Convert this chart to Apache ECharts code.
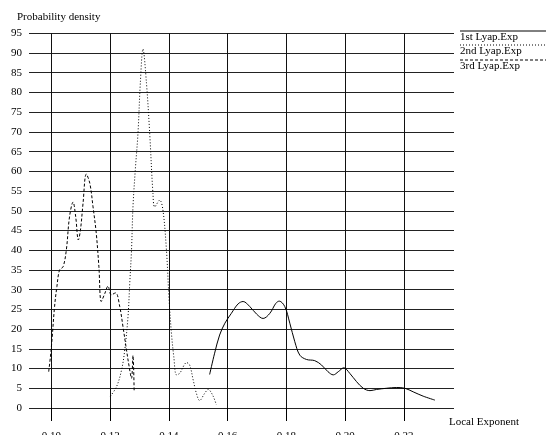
<!DOCTYPE html>
<html>
<head>
<meta charset="utf-8">
<script src="https://cdn.jsdelivr.net/npm/echarts@6/dist/echarts.min.js"></script>
<style>
html,body{margin:0;padding:0;background:#fff;}
#chart{width:546px;height:435px;}
</style>
</head>
<body>
<div id="chart"></div>
<script>
// ---- data ----
var xTicks = [0.10, 0.12, 0.14, 0.16, 0.18, 0.20, 0.22];
var yTicks = [0, 5, 10, 15, 20, 25, 30, 35, 40, 45, 50, 55, 60, 65, 70, 75, 80, 85, 90, 95];
var seriesNames = ['1st Lyap.Exp', '2nd Lyap.Exp', '3rd Lyap.Exp'];

var lyap1X = [0.1539, 0.1556, 0.1573, 0.1591, 0.1613, 0.1636, 0.1653, 0.1676, 0.1699, 0.1721, 0.1744, 0.1764, 0.1776, 0.1795, 0.1812, 0.1829, 0.1846, 0.1869, 0.1897, 0.1920, 0.1942, 0.1960, 0.1977, 0.1996, 0.2016, 0.2039, 0.2062, 0.2085, 0.2107, 0.2141, 0.2176, 0.2204, 0.2232, 0.2266, 0.2306];
var lyap1Y = [8.5, 13.9, 18.5, 21.5, 24, 26.4, 27, 25.7, 23.8, 22.7, 24, 26.5, 27.1, 25.7, 21.5, 16.8, 13.4, 12.3, 12, 10.9, 9.2, 8.4, 9.2, 10.2, 8.8, 6.7, 5, 4.4, 4.7, 5, 5.2, 5, 4.1, 3, 2];

var lyap2X = [0.1201, 0.1222, 0.1239, 0.1250, 0.1261, 0.1267, 0.1273, 0.1278, 0.1286, 0.1295, 0.1303, 0.1312, 0.1324, 0.1335, 0.1346, 0.1352, 0.1369, 0.1380, 0.1392, 0.1401, 0.1409, 0.1417, 0.1426, 0.1437, 0.1461, 0.1471, 0.1483, 0.1494, 0.1505, 0.1522, 0.1534, 0.1549, 0.1562];
var lyap2Y = [3.0, 5.4, 9.6, 14.7, 23.1, 31.6, 40, 51, 60.5, 69.6, 82.3, 91, 82.3, 69.6, 54.4, 51, 52.7, 50.2, 40, 27.4, 18.9, 13, 8.4, 8.8, 11.5, 10.9, 7.1, 3.7, 1.9, 3.7, 4.7, 3.3, 0.8];

var lyap3X = [0.0991, 0.0997, 0.1003, 0.1011, 0.1019, 0.1028, 0.1040, 0.1051, 0.1062, 0.1074, 0.1083, 0.1092, 0.1099, 0.1108, 0.1119, 0.1131, 0.1142, 0.1153, 0.1162, 0.1170, 0.1182, 0.1193, 0.1204, 0.1219, 0.1233, 0.1244, 0.1256, 0.1265, 0.1273, 0.1278, 0.1282];
var lyap3Y = [9.2, 13, 18, 25.7, 30.8, 35, 35.8, 40, 48.5, 52.2, 48.5, 42.6, 45, 51.9, 59.3, 57, 51, 44.3, 35.8, 27, 29, 30.9, 28.7, 29.2, 25.7, 20.6, 14.7, 10.5, 7.5, 13.3, 4.2];

function zip(xs, ys) { return xs.map(function (x, i) { return [x, ys[i]]; }); }

var FONT = '"Liberation Serif", "Times New Roman", serif';
var chart = echarts.init(document.getElementById('chart'), null, {renderer: 'canvas'});

var lineStyles = [
  {color: '#000', width: 1, type: 'solid'},
  {color: '#000', width: 1, type: [1, 2]},
  {color: '#000', width: 1, type: [3, 2]}
];
var legendY = [31, 45, 60];

var graphics = [];
seriesNames.forEach(function (name, i) {
  graphics.push({
    type: 'line', silent: true,
    shape: {x1: 460, y1: legendY[i], x2: 546, y2: legendY[i]},
    style: {stroke: '#000', lineWidth: 1, lineDash: i === 0 ? null : lineStyles[i].type}
  });
  graphics.push({
    type: 'text', silent: true, left: 460, top: legendY[i] + 0.5,
    style: {text: name, font: '11px ' + FONT, fill: '#000'}
  });
});

chart.setOption({
  animation: false,
  backgroundColor: '#fff',
  title: {
    text: 'Probability density', left: 12, top: 7,
    textStyle: {fontFamily: FONT, fontSize: 11, fontWeight: 'normal', color: '#000'}
  },
  grid: {left: 29, right: 92, top: 33.3, bottom: 27, containLabel: false, outerBoundsMode: 'none'},
  xAxis: {
    type: 'value', min: 0.0924, max: 0.2371,
    name: 'Local Exponent', nameLocation: 'end', nameGap: -5,
    nameTextStyle: {fontFamily: FONT, fontSize: 11, color: '#000', align: 'left', verticalAlign: 'top', padding: [9, 0, 0, 0]},
    axisLine: {show: false},
    axisTick: {show: true, length: 13, customValues: xTicks, lineStyle: {color: '#000', width: 1}},
    axisLabel: {customValues: xTicks, margin: 23, fontFamily: FONT, fontSize: 11, color: '#000',
      formatter: function (v) { return v.toFixed(2); }},
    splitLine: {show: true, lineStyle: {color: '#111', width: 1}}
  },
  yAxis: {
    type: 'value', min: 0, max: 95, interval: 5,
    axisLine: {show: false},
    axisTick: {show: false},
    axisLabel: {margin: 7, fontFamily: FONT, fontSize: 11, color: '#000'},
    splitLine: {show: true, lineStyle: {color: '#222', width: 1}}
  },
  graphic: graphics,
  series: [
    {name: seriesNames[0], type: 'line', data: zip(lyap1X, lyap1Y), showSymbol: false, smooth: 0.35, lineStyle: lineStyles[0]},
    {name: seriesNames[1], type: 'line', data: zip(lyap2X, lyap2Y), showSymbol: false, smooth: 0.35, lineStyle: lineStyles[1]},
    {name: seriesNames[2], type: 'line', data: zip(lyap3X, lyap3Y), showSymbol: false, smooth: 0.35, lineStyle: lineStyles[2]}
  ]
});
</script>
</body>
</html>
